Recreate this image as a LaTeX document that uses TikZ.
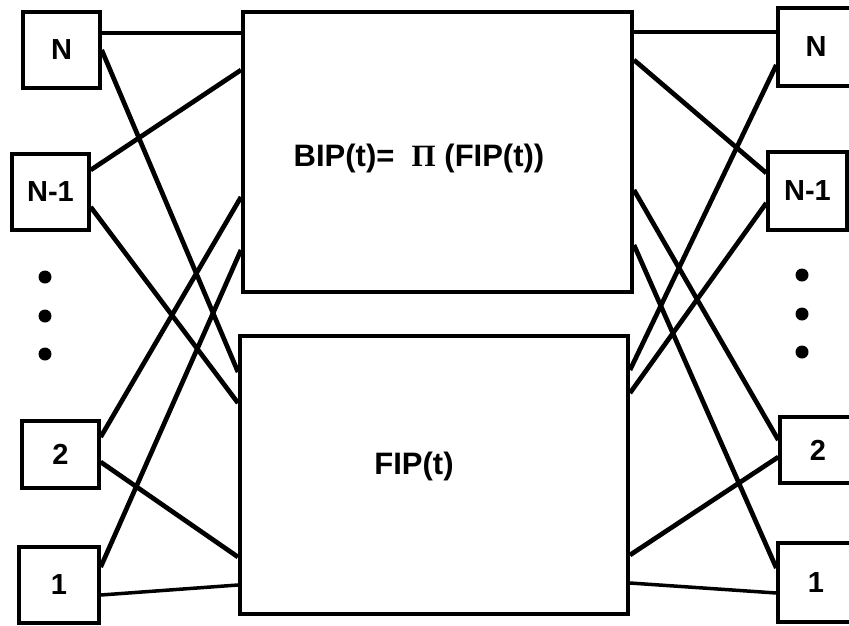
\documentclass[tikz,border=0pt]{standalone}
\usepackage{fontspec}
\setmainfont{Liberation Sans}
\newfontfamily\pifont{Liberation Serif}
\begin{document}
\begin{tikzpicture}[x=1pt,y=-1pt,
  box/.style={draw, line width=3.4pt, inner sep=0pt, font=\bfseries\fontsize{29}{34}\selectfont},
  big/.style={draw, line width=4pt, inner sep=0pt},
  wire/.style={line width=4.7pt},
  flat/.style={line width=3.5pt},
  dotn/.style={circle, fill, inner sep=0pt, minimum size=13pt},
  lbl/.style={font=\bfseries\fontsize{31}{36}\selectfont, inner sep=0pt}]
\useasboundingbox (0,0) rectangle (849,625);
\clip (0,0) rectangle (849,625);
\fill[white] (0,0) rectangle (849,625);
% big boxes
\node[big, minimum width=389pt, minimum height=280pt] (top) at (437.5,152) {};
\node[big, minimum width=388pt, minimum height=278pt] (bot) at (434,475) {};
% left boxes
\node[box, minimum width=77pt, minimum height=76pt] (lN) at (61.5,50) {N};
\node[box, minimum width=77pt, minimum height=76pt] (lN1) at (50.5,192) {N-1};
\node[box, minimum width=77pt, minimum height=67pt] (l2) at (60.5,454.5) {2};
\node[box, minimum width=80pt, minimum height=76pt] (l1) at (59,585) {1};
% right boxes
\node[box, minimum width=76pt, minimum height=78pt] (rN) at (816,47) {N};
\node[box, minimum width=79pt, minimum height=78pt] (rN1) at (807.5,191) {N-1};
\node[box, minimum width=76pt, minimum height=66pt] (r2) at (818,450) {2};
\node[box, minimum width=76pt, minimum height=79pt] (r1) at (816,582.5) {1};
% dots
\node[dotn] (ld1) at (45,277) {};
\node[dotn] (ld2) at (45,316) {};
\node[dotn] (ld3) at (45,354) {};
\node[dotn] (rd1) at (802,275) {};
\node[dotn] (rd2) at (802,314) {};
\node[dotn] (rd3) at (802,352) {};
% texts
\node[lbl] (bip) at (419,158) {BIP(t)=\ \ {\pifont Π} (FIP(t))};
\node[lbl] (fip) at (414,466) {FIP(t)};
% left connectors
\draw[flat] (lN.east |- 0,33) -- (top.west |- 0,33);
\draw[wire] (lN.east |- 0,50) -- (bot.west |- 0,372);
\draw[wire] (lN1.east |- 0,170) -- (top.west |- 0,70);
\draw[wire] (lN1.east |- 0,207) -- (bot.west |- 0,403);
\draw[wire] (l2.east |- 0,437) -- (top.west |- 0,197);
\draw[wire] (l2.east |- 0,462) -- (bot.west |- 0,557);
\draw[wire] (l1.east |- 0,567) -- (top.west |- 0,250);
\draw[flat] (l1.east |- 0,595) -- (bot.west |- 0,585);
% right connectors
\draw[flat] (top.east |- 0,32) -- (rN.west |- 0,32);
\draw[wire] (top.east |- 0,60) -- (rN1.west |- 0,173);
\draw[wire] (top.east |- 0,190) -- (r2.west |- 0,440);
\draw[wire] (top.east |- 0,245) -- (r1.west |- 0,568);
\draw[wire] (bot.east |- 0,370) -- (rN.west |- 0,65);
\draw[wire] (bot.east |- 0,393) -- (rN1.west |- 0,203);
\draw[wire] (bot.east |- 0,555) -- (r2.west |- 0,457);
\draw[flat] (bot.east |- 0,583) -- (r1.west |- 0,593);
\end{tikzpicture}
\end{document}
